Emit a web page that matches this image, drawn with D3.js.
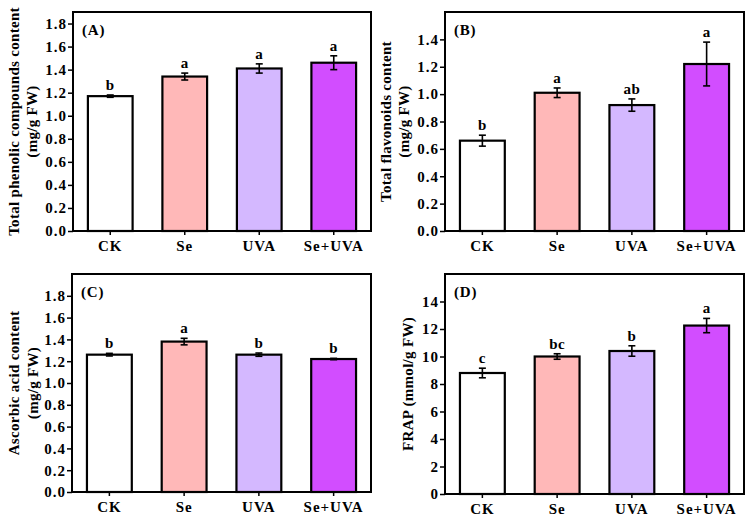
<!DOCTYPE html>
<html>
<head>
<meta charset="utf-8">
<script src="https://cdn.jsdelivr.net/npm/d3@7"></script>
<style>
  body { margin: 0; background: #fff; }
  svg text { font-family: "Liberation Serif", "Times New Roman", serif; font-weight: bold; }
</style>
</head>
<body>
<svg id="chart" width="755" height="526"></svg>
<script>
var categories = ['CK', 'Se', 'UVA', 'Se+UVA'];
var colors = ['#ffffff', '#ffb8b8', '#d4b8ff', '#d24dff'];

// (A) total phenolic compounds
var phenolic = [1.17, 1.34, 1.41, 1.46];
var phenolicErr = [0.01, 0.03, 0.04, 0.06];
var phenolicSig = ['b', 'a', 'a', 'a'];

// (B) total flavonoids
var flavonoids = [0.66, 1.01, 0.92, 1.22];
var flavonoidsErr = [0.04, 0.035, 0.045, 0.16];
var flavonoidsSig = ['b', 'a', 'ab', 'a'];

// (C) ascorbic acid
var ascorbic = [1.26, 1.38, 1.26, 1.22];
var ascorbicErr = [0.012, 0.03, 0.015, 0.006];
var ascorbicSig = ['b', 'a', 'b', 'b'];

// (D) FRAP
var frap = [8.8, 10.0, 10.4, 12.25];
var frapErr = [0.35, 0.2, 0.38, 0.52];
var frapSig = ['c', 'bc', 'b', 'a'];

var panels = [
  {tag: '(A)', values: phenolic, err: phenolicErr, sig: phenolicSig, max: 1.9, step: 0.2, top: 1.8, fmt: '.1f',
   title: ['Total phenolic compounds content', '(mg/g FW)'], x0: 73, x1: 371, y0: 12, y1: 231, tx: [14, 32]},
  {tag: '(B)', values: flavonoids, err: flavonoidsErr, sig: flavonoidsSig, max: 1.6, step: 0.2, top: 1.4, fmt: '.1f',
   title: ['Total flavonoids content', '(mg/g FW)'], x0: 445, x1: 744, y0: 12, y1: 231, tx: [386, 404]},
  {tag: '(C)', values: ascorbic, err: ascorbicErr, sig: ascorbicSig, max: 2.0, step: 0.2, top: 1.8, fmt: '.1f',
   title: ['Ascorbic acid content', '(mg/g FW)'], x0: 72, x1: 371, y0: 274, y1: 492, tx: [14, 33]},
  {tag: '(D)', values: frap, err: frapErr, sig: frapSig, max: 16, step: 2, top: 14, fmt: 'd',
   title: ['FRAP (mmol/g FW)'], x0: 445, x1: 744, y0: 274, y1: 494, tx: [408]}
];

var svg = d3.select('#chart');

panels.forEach(drawPanel);

function drawPanel(p){
  var x = d3.scaleBand().domain(categories).range([p.x0, p.x1]).paddingInner(0.4).paddingOuter(0.2);
  var y = d3.scaleLinear().domain([0, p.max]).range([p.y1, p.y0]);
  var g = svg.append('g');

  var ticks = d3.range(0, Math.round(p.top / p.step) + 1).map(function(i){ return +(i * p.step).toFixed(2); });

  var yAxis = g.append('g')
    .attr('transform', 'translate(' + p.x0 + ',0)')
    .call(d3.axisLeft(y).tickValues(ticks).tickFormat(d3.format(p.fmt)).tickSize(5).tickSizeOuter(0).tickPadding(1));
  yAxis.select('.domain').remove();
  yAxis.selectAll('line').attr('stroke-width', 1.5);
  yAxis.selectAll('text').attr('font-size', 15).attr('letter-spacing', 1).attr('fill', '#000');

  var xAxis = g.append('g')
    .attr('transform', 'translate(0,' + p.y1 + ')')
    .call(d3.axisBottom(x).tickSize(4).tickSizeOuter(0).tickPadding(5));
  xAxis.select('.domain').remove();
  xAxis.selectAll('line').attr('stroke-width', 1.5);
  xAxis.selectAll('text').attr('font-size', 15).attr('letter-spacing', 1).attr('fill', '#000');

  // bars
  g.selectAll('rect.bar')
    .data(p.values)
    .join('rect')
    .attr('class', 'bar')
    .attr('x', function(d, i){ return x(categories[i]); })
    .attr('width', x.bandwidth())
    .attr('y', function(d){ return y(d); })
    .attr('height', function(d){ return y(0) - y(d); })
    .attr('fill', function(d, i){ return colors[i]; })
    .attr('stroke', '#000')
    .attr('stroke-width', 2.2);

  // error bars
  p.values.forEach(function(v, i){
    var cx = x(categories[i]) + x.bandwidth() / 2;
    var hi = y(v + p.err[i]), lo = y(v - p.err[i]);
    g.append('line').attr('x1', cx).attr('x2', cx).attr('y1', hi).attr('y2', lo)
      .attr('stroke', '#000').attr('stroke-width', 1.6);
    [hi, lo].forEach(function(yy){
      g.append('line').attr('x1', cx - 3.5).attr('x2', cx + 3.5).attr('y1', yy).attr('y2', yy)
        .attr('stroke', '#000').attr('stroke-width', 1.6);
    });
    g.append('text')
      .attr('x', cx)
      .attr('y', hi - 5)
      .attr('text-anchor', 'middle')
      .attr('font-size', 15)
      .attr('letter-spacing', 0.5)
      .text(p.sig[i]);
  });

  // frame
  g.append('rect')
    .attr('x', p.x0).attr('y', p.y0)
    .attr('width', p.x1 - p.x0).attr('height', p.y1 - p.y0)
    .attr('fill', 'none').attr('stroke', '#000').attr('stroke-width', 2);

  g.append('text')
    .attr('x', p.x0 + 9)
    .attr('y', p.y0 + 23)
    .attr('font-size', 15)
    .attr('letter-spacing', 0.8)
    .text(p.tag);

  // y title
  var cy = (p.y0 + p.y1) / 2;
  p.title.forEach(function(t, k){
    g.append('text')
      .attr('transform', 'translate(' + p.tx[k] + ',' + cy + ') rotate(-90)')
      .attr('text-anchor', 'middle')
      .attr('dy', '0.35em')
      .attr('font-size', 15)
      .attr('letter-spacing', 0.3)
      .text(t);
  });
}
</script>
</body>
</html>
